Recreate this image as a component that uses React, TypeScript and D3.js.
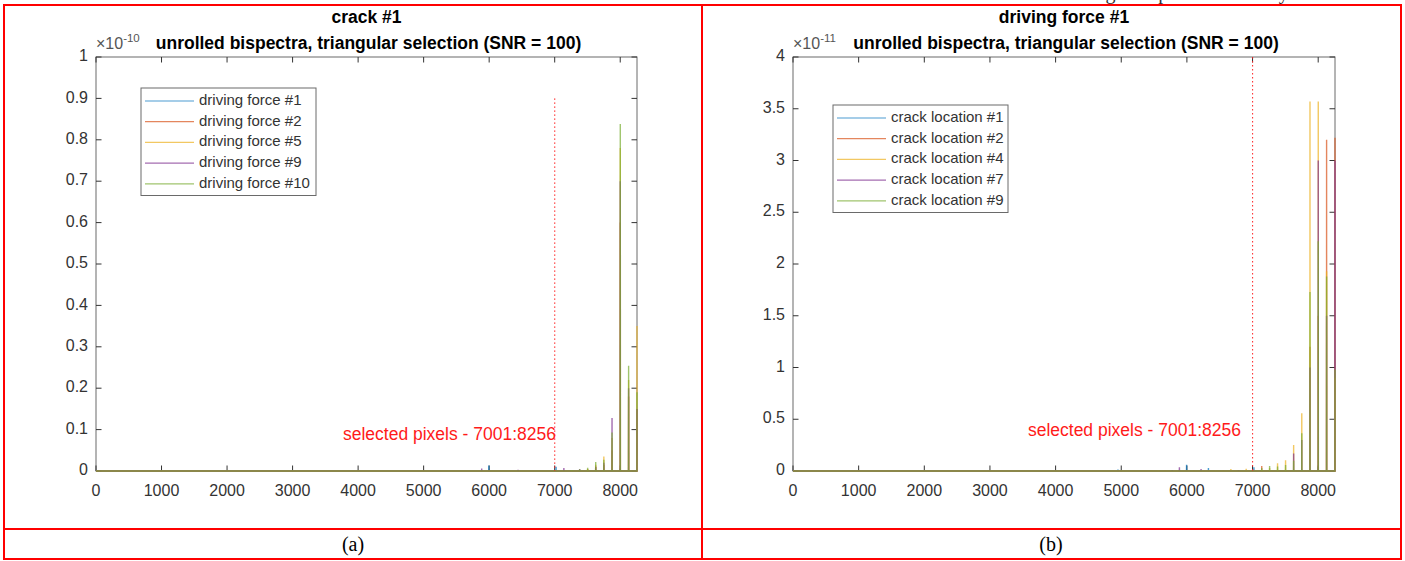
import React from 'react';
import * as d3 from 'd3';

// series colours (matlab default order)
const colors = ['#0072BD', '#D95319', '#EDB120', '#7E2F8E', '#77AC30'];

// panel (a): crack #1, values in units of 1e-10
const leftPixels = [5886, 5995, 6441, 7021, 7140, 7260, 7381, 7503, 7626, 7750, 7875, 8001, 8128, 8256];
const leftNames = ['driving force #1', 'driving force #2', 'driving force #5', 'driving force #9', 'driving force #10'];
const leftForce1 = [0, 0.013, 0, 0.010, 0, 0, 0, 0, 0, 0, 0, 0.006, 0, 0];
const leftForce2 = [0, 0, 0, 0, 0, 0, 0, 0.004, 0.01, 0.015, 0.05, 0.6, 0.18, 0.15];
const leftForce5 = [0, 0, 0, 0, 0, 0, 0, 0.005, 0.015, 0.035, 0.08, 0.78, 0.22, 0.35];
const leftForce9 = [0.006, 0, 0.003, 0, 0.007, 0, 0.005, 0, 0.01, 0.02, 0.128, 0.7, 0.2, 0.15];
const leftForce10 = [0, 0, 0, 0, 0, 0.002, 0.004, 0.008, 0.022, 0.027, 0.093, 0.838, 0.254, 0.19];
const leftYTicks = [0, 0.1, 0.2, 0.3, 0.4, 0.5, 0.6, 0.7, 0.8, 0.9, 1];

// panel (b): driving force #1, values in units of 1e-11
const rightPixels = [4950, 5460, 5565, 5671, 5778, 5886, 5995, 6105, 6216, 6328, 6441, 6555, 6670, 6786, 6903, 7021, 7140, 7260, 7381, 7503, 7626, 7750, 7875, 8001, 8128, 8256];
const rightNames = ['crack location #1', 'crack location #2', 'crack location #4', 'crack location #7', 'crack location #9'];
const rightLoc1 = [0.014, 0, 0, 0, 0, 0, 0.06, 0, 0, 0.03, 0, 0, 0, 0, 0, 0.035, 0, 0, 0, 0, 0, 0, 0, 0.04, 0, 0];
const rightLoc2 = [0, 0.01, 0, 0.008, 0, 0, 0, 0.01, 0, 0, 0, 0.01, 0, 0, 0, 0, 0.048, 0, 0, 0, 0, 0, 1.2, 1.5, 3.2, 3.22];
const rightLoc4 = [0, 0, 0.008, 0, 0, 0, 0, 0, 0, 0, 0.01, 0, 0.018, 0, 0.022, 0, 0, 0.03, 0.074, 0.103, 0.25, 0.557, 3.57, 3.57, 1.93, 0.9];
const rightLoc7 = [0, 0, 0, 0, 0.01, 0.035, 0, 0, 0.02, 0, 0, 0, 0, 0.01, 0, 0, 0, 0, 0, 0, 0.17, 0.3, 1.0, 3.0, 1.5, 3.0];
const rightLoc9 = [0, 0, 0, 0, 0, 0, 0, 0, 0, 0, 0, 0, 0, 0, 0, 0, 0.03, 0.048, 0.043, 0.058, 0.1, 0.364, 1.73, 2.22, 1.88, 0.98];
const rightYTicks = [0, 0.5, 1, 1.5, 2, 2.5, 3, 3.5, 4];

const xTicks = [0, 1000, 2000, 3000, 4000, 5000, 6000, 7000, 8000];
const nPixels = 8256;
const selStart = 7001;

const font = 'Liberation Sans, Arial, sans-serif';
const serif = 'Liberation Serif, Times New Roman, serif';
const axisColor = '#6a6a6a';
const textColor = '#333';

type PanelProps = {
  left: number;
  right: number;
  top: number;
  bottom: number;
  yMax: number;
  yTicks: number[];
  pixels: number[];
  series: number[][];
  names: string[];
  title: string;
  exponent: string;
  markerTop: number;
  labelX: number;
  labelY: number;
  legendX: number;
  legendY: number;
};

function Panel(p: PanelProps) {
  const x = d3.scaleLinear().domain([0, nPixels]).range([p.left, p.right]);
  const y = d3.scaleLinear().domain([0, p.yMax]).range([p.bottom, p.top]);
  const line = d3.line<[number, number]>().x(d => x(d[0])).y(d => y(d[1]));

  const paths = p.series.map(vals => {
    const pts: [number, number][] = [[0, 0]];
    p.pixels.forEach((px, i) => {
      if (vals[i] <= 0) return;
      pts.push([px - 1, 0], [px, vals[i]]);
      if (px < nPixels) pts.push([px + 1, 0]);
    });
    if (pts[pts.length - 1][0] < nPixels) pts.push([nPixels, 0]);
    return line(pts) || '';
  });

  const tl = 5.5;
  const midX = (p.left + p.right) / 2;
  const rowH = 20.7;
  const legW = 175;
  const legH = rowH * p.names.length + 4;

  return (
    <g fontFamily={font}>
      <text x={midX} y={p.top - 39} textAnchor="middle" dominantBaseline="middle" fontWeight="bold" fontSize={17.5} fill="#000">{p.title}</text>
      <text x={p.left} y={p.top - 8} fontSize={16} fill="#555">
        ×10<tspan dy={-7} fontSize={11.5}>{p.exponent}</tspan>
      </text>
      <text x={midX + 2} y={p.top - 8} textAnchor="middle" fontWeight="bold" fontSize={17.5} fill="#000">
        unrolled bispectra, triangular selection (SNR = 100)
      </text>

      {/* axes box */}
      <rect x={p.left} y={p.top} width={p.right - p.left} height={p.bottom - p.top} fill="none" stroke={axisColor} strokeWidth={1} />
      {xTicks.map(t => (
        <g key={'x' + t}>
          <line x1={x(t)} x2={x(t)} y1={p.bottom} y2={p.bottom - tl} stroke={textColor} />
          <line x1={x(t)} x2={x(t)} y1={p.top} y2={p.top + tl} stroke={textColor} />
          <text x={x(t)} y={p.bottom + 21} textAnchor="middle" dominantBaseline="middle" fontSize={16} fill={textColor}>{t}</text>
        </g>
      ))}
      {p.yTicks.map(t => (
        <g key={'y' + t}>
          <line x1={p.left} x2={p.left + tl} y1={y(t)} y2={y(t)} stroke={textColor} />
          <line x1={p.right} x2={p.right - tl} y1={y(t)} y2={y(t)} stroke={textColor} />
          <text x={p.left - 8} y={y(t)} textAnchor="end" dominantBaseline="middle" fontSize={16} fill={textColor}>{t}</text>
        </g>
      ))}

      {/* data */}
      {paths.map((d, i) => (
        <path key={i} d={d} fill="none" stroke={colors[i]} strokeWidth={1.4} strokeOpacity={0.7} />
      ))}

      {/* selection marker */}
      <line x1={x(selStart)} x2={x(selStart)} y1={y(p.markerTop)} y2={y(0)} stroke="#ff2020" strokeWidth={1} strokeDasharray="1.5,2.5" />
      <text x={x(p.labelX)} y={y(p.labelY)} textAnchor="end" dominantBaseline="middle" fontSize={17.5} fill="#ff1a1a">
        selected pixels - 7001:8256
      </text>

      {/* legend */}
      <rect x={p.legendX} y={p.legendY} width={legW} height={legH} fill="#fff" stroke={axisColor} strokeWidth={1} />
      {p.names.map((n, i) => {
        const ly = p.legendY + 13 + i * rowH;
        return (
          <g key={n}>
            <line x1={p.legendX + 4} x2={p.legendX + 53} y1={ly} y2={ly} stroke={colors[i]} strokeWidth={1.2} strokeOpacity={0.7} />
            <text x={p.legendX + 58} y={ly} dominantBaseline="middle" fontSize={15} fill={textColor}>{n}</text>
          </g>
        );
      })}
    </g>
  );
}

export default function App() {
  const red = '#ff0000';
  return (
    <svg width={1405} height={561} style={{ position: 'absolute', left: 0, top: 0, background: '#fff' }}>
      <rect width={1405} height={561} fill="#fff" />
      {/* text from the page above, cut off by the page edge */}
      <text x={810} y={-1} fontFamily={serif} fontSize={20} fill="#333">
        horizontal location of the crack with good spectral accuracy
      </text>

      <Panel left={96} right={637} top={57} bottom={471} yMax={1} yTicks={leftYTicks} pixels={leftPixels}
        series={[leftForce1, leftForce2, leftForce5, leftForce9, leftForce10]} names={leftNames}
        title="crack #1" exponent="-10" markerTop={0.9} labelX={7020} labelY={0.085}
        legendX={141} legendY={88} />
      <Panel left={793} right={1335} top={57} bottom={471} yMax={4} yTicks={rightYTicks} pixels={rightPixels}
        series={[rightLoc1, rightLoc2, rightLoc4, rightLoc7, rightLoc9]} names={rightNames}
        title="driving force #1" exponent="-11" markerTop={4} labelX={6824} labelY={0.38}
        legendX={833} legendY={105} />

      {/* table borders */}
      <rect x={4} y={5} width={1397} height={554} fill="none" stroke={red} strokeWidth={2} />
      <line x1={702} x2={702} y1={5} y2={559} stroke={red} strokeWidth={2} />
      <line x1={4} x2={1401} y1={529} y2={529} stroke={red} strokeWidth={2} />
      <text x={353} y={546} textAnchor="middle" dominantBaseline="middle" fontFamily={serif} fontSize={20}>(a)</text>
      <text x={1051} y={546} textAnchor="middle" dominantBaseline="middle" fontFamily={serif} fontSize={20}>(b)</text>
    </svg>
  );
}
